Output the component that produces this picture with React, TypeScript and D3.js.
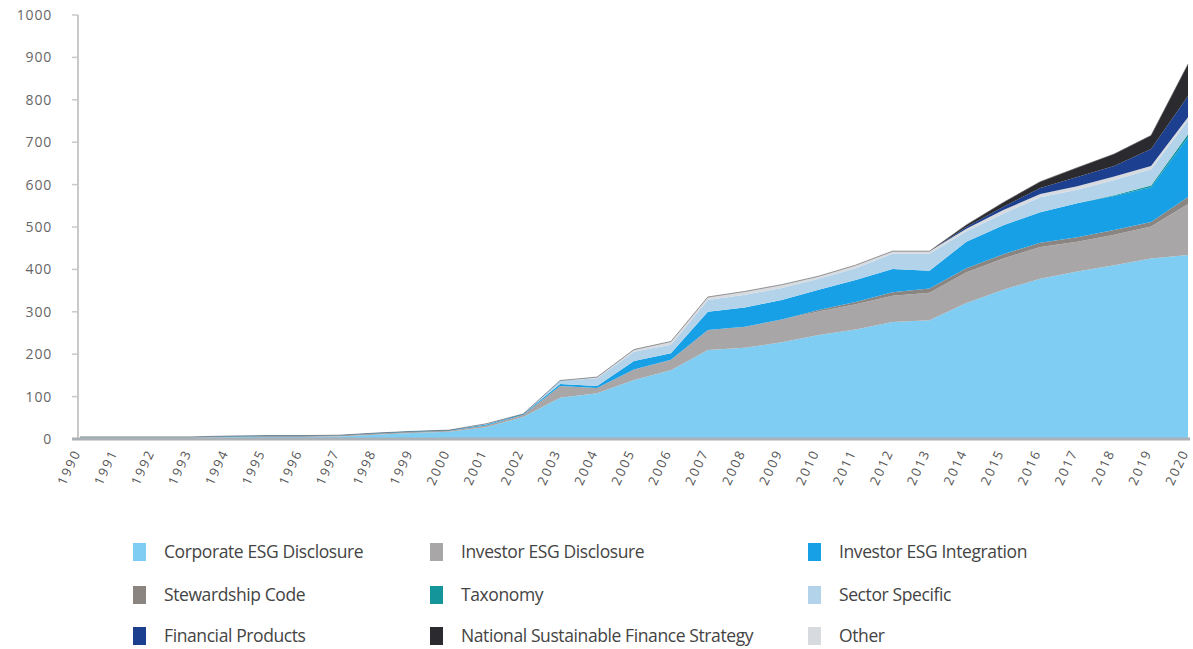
import React from "react";
import * as d3 from "d3";

const years = d3.range(1990, 2021);

const corporate = [3, 3, 3, 3, 4, 5, 5, 6, 10, 14, 17, 28, 52, 97, 108, 139, 162, 210, 215, 228, 245, 258, 276, 280, 321, 352, 378, 395, 410, 426, 434];
const investorDisclosure = [1, 1, 1, 1, 2, 2, 2, 2, 3, 3, 3, 4, 5, 28, 12, 25, 25, 47, 50, 54, 56, 60, 62, 65, 72, 74, 75, 70, 72, 75, 120];
const stewardship = [0, 0, 0, 0, 0, 0, 0, 0, 0, 0, 0, 0, 0, 0, 0, 0, 0, 0, 0, 0, 3, 5, 8, 10, 10, 10, 10, 11, 11, 11, 17];
const investorIntegration = [1, 1, 1, 1, 1, 1, 1, 1, 1, 1, 1, 2, 2, 5, 5, 20, 15, 43, 45, 46, 48, 52, 55, 42, 62, 68, 72, 80, 80, 82, 140];
const taxonomy = [0, 0, 0, 0, 0, 0, 0, 0, 0, 0, 0, 0, 0, 0, 0, 0, 0, 0, 0, 0, 0, 0, 0, 0, 0, 0, 0, 0, 2, 4, 8];
const sectorSpecific = [0, 0, 0, 0, 0, 0, 0, 0, 0, 0, 0, 2, 0, 8, 18, 22, 20, 28, 30, 28, 26, 28, 36, 40, 25, 28, 35, 32, 36, 38, 32];
const financialProducts = [0, 0, 0, 0, 0, 0, 0, 0, 0, 0, 0, 0, 0, 0, 0, 0, 0, 0, 0, 0, 0, 0, 0, 0, 4, 8, 14, 22, 25, 40, 50];
const nationalStrategy = [0, 0, 0, 0, 0, 0, 0, 0, 0, 0, 0, 0, 0, 0, 0, 0, 0, 0, 0, 0, 0, 0, 0, 0, 5, 10, 15, 22, 28, 32, 75];
const other = [0, 0, 0, 0, 0, 0, 0, 0, 0, 0, 0, 0, 0, 0, 3, 5, 8, 7, 8, 8, 6, 7, 6, 6, 6, 8, 8, 8, 8, 8, 8];

const yTicks = [0, 100, 200, 300, 400, 500, 600, 700, 800, 900, 1000];

const seriesNames = [
  "Corporate ESG Disclosure",
  "Investor ESG Disclosure",
  "Stewardship Code",
  "Investor ESG Integration",
  "Taxonomy",
  "Sector Specific",
  "Other",
  "Financial Products",
  "National Sustainable Finance Strategy",
];
const seriesValues = [
  corporate,
  investorDisclosure,
  stewardship,
  investorIntegration,
  taxonomy,
  sectorSpecific,
  other,
  financialProducts,
  nationalStrategy,
];
const colors: Record<string, string> = {
  "Corporate ESG Disclosure": "#7fcdf2",
  "Investor ESG Disclosure": "#a9a6a8",
  "Stewardship Code": "#8a8580",
  "Investor ESG Integration": "#18a0e6",
  "Taxonomy": "#14959a",
  "Sector Specific": "#b3d3ea",
  "Other": "#d7dbe0",
  "Financial Products": "#1d3f8f",
  "National Sustainable Finance Strategy": "#2b2b2f",
};

const legendOrder = [
  ["Corporate ESG Disclosure", "Investor ESG Disclosure", "Investor ESG Integration"],
  ["Stewardship Code", "Taxonomy", "Sector Specific"],
  ["Financial Products", "National Sustainable Finance Strategy", "Other"],
];

export default function App() {
  const W = 1193, H = 649;
  const x = d3.scaleLinear().domain([1990, 2020]).range([80, 1188]);
  const y = d3.scaleLinear().domain([0, 1000]).range([439, 15]);

  const rows = years.map((yr, i) => {
    const r: any = { year: yr };
    seriesNames.forEach((n, k) => (r[n] = seriesValues[k][i]));
    return r;
  });
  const stack = d3.stack<any>().keys(seriesNames)(rows);
  const area = d3
    .area<any>()
    .x((d) => x(d.data.year))
    .y0((d) => y(d[0]))
    .y1((d) => y(d[1]));
  const topLine = d3
    .line<any>()
    .x((d) => x(d.data.year))
    .y((d) => y(d[1]));

  const font = "'Open Sans', 'Noto Sans', sans-serif";
  const colX = [133, 430, 808];
  const rowY = [552, 595, 636];

  return (
    <svg width={W} height={H} style={{ position: "absolute", left: 0, top: 0, background: "#fff" }}>
      {stack.map((s) => (
        <path key={s.key} d={area(s) || ""} fill={colors[s.key]} />
      ))}
      <path d={topLine(stack[stack.length - 1]) || ""} fill="none" stroke="#555" strokeWidth={1} opacity={0.6} />
      {/* y axis */}
      <line x1={78} x2={78} y1={y(1000)} y2={y(0)} stroke="#c9c9c9" strokeWidth={2} />
      {yTicks.map((t) => (
        <g key={t}>
          <line x1={72} x2={78} y1={y(t)} y2={y(t)} stroke="#c9c9c9" strokeWidth={1.5} />
          <text x={52} y={y(t)} dy="0.35em" textAnchor="end" fontSize={14} fill="#666" fontFamily={font} style={{ letterSpacing: "0.8px" }}>
            {t}
          </text>
        </g>
      ))}
      {/* x axis */}
      <line x1={72} x2={1190} y1={y(0)} y2={y(0)} stroke="#aab2b8" strokeWidth={3} />
      {years.map((yr) => (
        <text
          key={yr}
          transform={`translate(${x(yr) - 3},${450}) rotate(-65)`}
          textAnchor="end"
          dy="0.35em"
          fontSize={13}
          fill="#555"
          fontFamily={font}
          style={{ letterSpacing: "2px" }}
        >
          {yr}
        </text>
      ))}
      {/* legend */}
      {legendOrder.map((row, ri) =>
        row.map((name, ci) => (
          <g key={name}>
            <rect x={colX[ci]} y={rowY[ri] - 9} width={13} height={18} fill={colors[name]} />
            <text
              x={colX[ci] + 31}
              y={rowY[ri]}
              dy="0.35em"
              fontSize={17.5}
              fill="#444"
              fontFamily={font}
              style={{ letterSpacing: "-0.4px" }}
            >
              {name}
            </text>
          </g>
        ))
      )}
    </svg>
  );
}
